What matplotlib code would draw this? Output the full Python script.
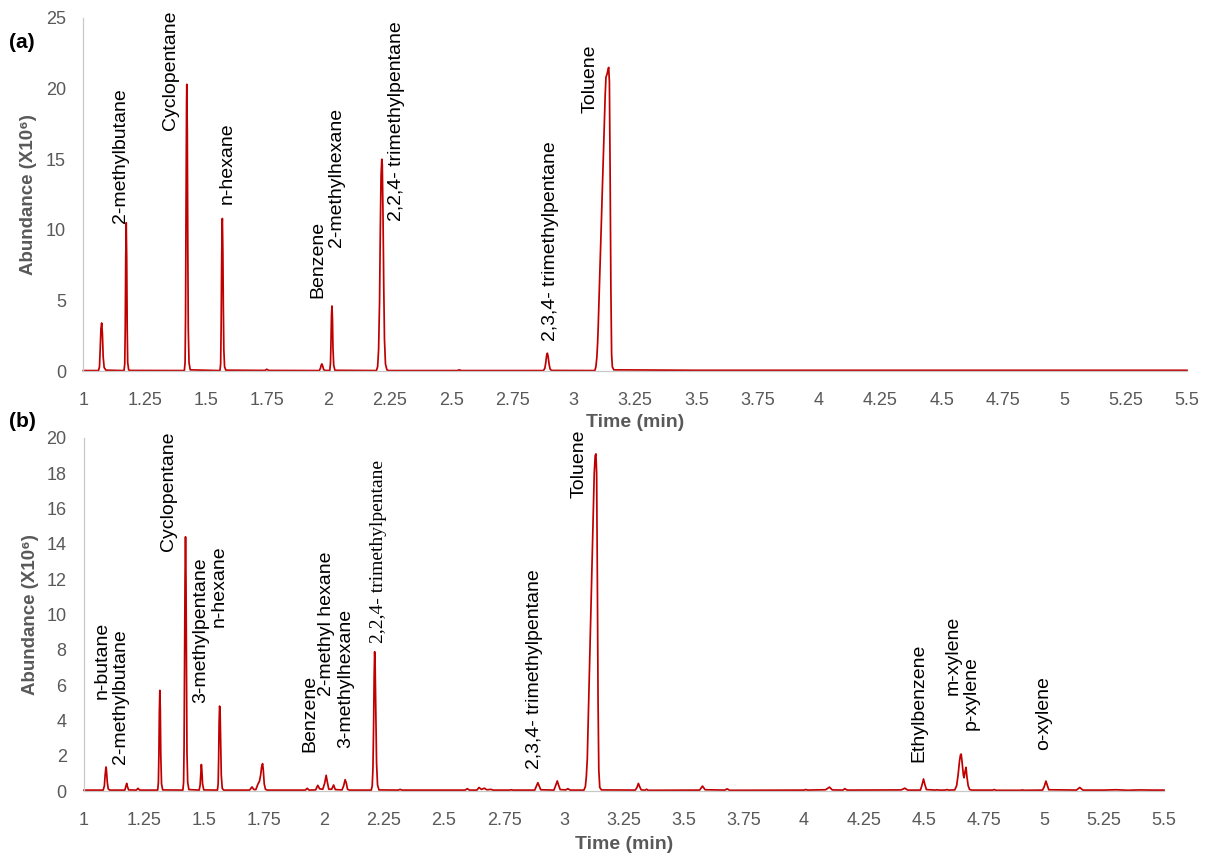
import matplotlib
matplotlib.use("Agg")
import matplotlib.pyplot as plt

plt.rcParams['font.family'] = ['Liberation Sans', 'DejaVu Sans']

# ---------------- DATA ----------------
# Panel (a): chromatogram trace vertices (time in min, abundance x10^6)
time_a = [1.000, 1.062, 1.066, 1.069, 1.072, 1.075, 1.078, 1.081, 1.085, 1.092,
          1.166, 1.169, 1.171, 1.173, 1.175, 1.177, 1.179, 1.181, 1.185, 1.190,
          1.412, 1.415, 1.417, 1.419, 1.421, 1.422, 1.424, 1.426, 1.428, 1.431, 1.436,
          1.557, 1.560, 1.562, 1.564, 1.566, 1.567, 1.569, 1.571, 1.573, 1.576, 1.581,
          1.740, 1.748, 1.756,
          1.962, 1.967, 1.970, 1.973, 1.976, 1.980, 1.985,
          2.005, 2.008, 2.010, 2.012, 2.014, 2.016, 2.018, 2.021, 2.026,
          2.195, 2.200, 2.204, 2.208, 2.211, 2.214, 2.217, 2.219, 2.222, 2.225, 2.228,
          2.232, 2.238, 2.245,
          2.525, 2.533, 2.541,
          2.876, 2.882, 2.886, 2.889, 2.892, 2.895, 2.899, 2.903, 2.909,
          3.080, 3.086, 3.090, 3.094, 3.097, 3.099, 3.105, 3.111, 3.117, 3.123, 3.128,
          3.131, 3.135, 3.139, 3.142, 3.145, 3.148, 3.151, 3.154, 3.157, 3.163,
          3.500, 4.000, 4.500, 5.000, 5.500]
abund_a = [0.03, 0.03, 0.30, 1.60, 3.00, 3.40, 2.60, 1.00, 0.25, 0.06,
           0.03, 0.50, 3.00, 8.00, 10.5, 8.00, 3.00, 0.60, 0.08, 0.04,
           0.03, 0.60, 4.00, 12.0, 19.0, 20.3, 17.0, 9.00, 3.00, 0.60, 0.08,
           0.03, 0.50, 3.00, 7.50, 10.5, 10.8, 8.50, 4.50, 1.50, 0.30, 0.06,
           0.04, 0.12, 0.04,
           0.03, 0.20, 0.42, 0.50, 0.35, 0.10, 0.04,
           0.04, 0.60, 2.20, 4.00, 4.60, 3.60, 1.60, 0.40, 0.05,
           0.03, 0.30, 1.50, 5.00, 10.0, 13.8, 15.0, 14.6, 11.0, 6.00, 2.20,
           0.50, 0.08, 0.03,
           0.03, 0.08, 0.03,
           0.03, 0.20, 0.65, 1.10, 1.26, 1.05, 0.50, 0.15, 0.04,
           0.03, 0.05, 0.30, 1.00, 2.00, 2.90, 6.40, 9.80, 13.3, 16.7, 19.6,
           20.8, 21.0, 21.3, 21.5, 20.5, 14.0, 6.00, 1.20, 0.30, 0.08,
           0.05, 0.05, 0.05, 0.05, 0.05]

# Panel (b): chromatogram trace vertices
time_b = [1.000, 1.080, 1.085, 1.088, 1.091, 1.092, 1.094, 1.097, 1.101, 1.107,
          1.170, 1.175, 1.178, 1.181, 1.186,
          1.218, 1.225, 1.232,
          1.307, 1.310, 1.312, 1.314, 1.316, 1.318, 1.320, 1.323, 1.328,
          1.412, 1.415, 1.417, 1.419, 1.421, 1.423, 1.425, 1.427, 1.429, 1.432, 1.437,
          1.480, 1.484, 1.487, 1.489, 1.491, 1.494, 1.499,
          1.556, 1.559, 1.561, 1.563, 1.565, 1.567, 1.569, 1.572, 1.576, 1.582,
          1.690, 1.700, 1.708,
          1.716, 1.725, 1.731, 1.736, 1.740, 1.744, 1.747, 1.751, 1.756, 1.763,
          1.922, 1.930, 1.938,
          1.965, 1.974, 1.982,
          1.995, 2.003, 2.009, 2.014, 2.020,
          2.032, 2.040, 2.047,
          2.075, 2.082, 2.088, 2.093, 2.098, 2.105,
          2.197, 2.201, 2.204, 2.207, 2.209, 2.211, 2.213, 2.216, 2.219, 2.223, 2.229,
          2.310, 2.317, 2.325,
          2.588, 2.597, 2.606,
          2.637, 2.646, 2.656, 2.668, 2.678, 2.695, 2.705,
          2.772, 2.780, 2.788,
          2.878, 2.884, 2.891, 2.896, 2.903,
          2.958, 2.965, 2.972, 2.977, 2.984,
          3.007, 3.016, 3.026,
          3.083, 3.089, 3.093, 3.097, 3.103, 3.109, 3.115, 3.121, 3.126, 3.130,
          3.133, 3.136, 3.139, 3.142, 3.145, 3.149, 3.156,
          3.297, 3.304, 3.310, 3.315, 3.322,
          3.338, 3.344, 3.350,
          3.565, 3.577, 3.588,
          3.670, 3.680, 3.690,
          4.000, 4.007, 4.015,
          4.090, 4.106, 4.118,
          4.162, 4.170, 4.180,
          4.405, 4.420, 4.432,
          4.485, 4.491, 4.498, 4.503, 4.510,
          4.548, 4.555, 4.562, 4.588, 4.595, 4.602,
          4.628, 4.636, 4.642, 4.648, 4.652, 4.655, 4.659, 4.664, 4.667, 4.671,
          4.675, 4.679, 4.684, 4.690, 4.700,
          4.785, 4.793, 4.800,
          4.903, 4.910, 4.917,
          4.994, 5.001, 5.008, 5.013, 5.020,
          5.135, 5.149, 5.162,
          5.250, 5.300, 5.350, 5.400, 5.450, 5.500]
abund_b = [0.05, 0.05, 0.30, 0.90, 1.30, 1.36, 1.10, 0.50, 0.12, 0.05,
           0.05, 0.30, 0.43, 0.25, 0.06,
           0.05, 0.15, 0.05,
           0.05, 0.50, 2.00, 4.50, 5.70, 4.60, 2.00, 0.40, 0.06,
           0.05, 0.50, 2.50, 7.00, 12.0, 14.4, 12.0, 6.50, 2.20, 0.50, 0.08,
           0.05, 0.35, 1.10, 1.50, 1.20, 0.40, 0.06,
           0.05, 0.40, 1.80, 3.90, 4.81, 4.60, 3.00, 0.90, 0.15, 0.05,
           0.05, 0.23, 0.08,
           0.08, 0.40, 0.55, 0.90, 1.35, 1.55, 1.20, 0.40, 0.10, 0.05,
           0.05, 0.15, 0.05,
           0.06, 0.32, 0.12,
           0.10, 0.45, 0.89, 0.50, 0.10,
           0.10, 0.34, 0.08,
           0.06, 0.30, 0.64, 0.45, 0.10, 0.05,
           0.05, 0.30, 1.30, 4.00, 6.50, 7.89, 7.20, 4.50, 1.60, 0.35, 0.06,
           0.05, 0.09, 0.05,
           0.05, 0.13, 0.05,
           0.05, 0.20, 0.09, 0.16, 0.07, 0.09, 0.05,
           0.05, 0.07, 0.05,
           0.05, 0.25, 0.47, 0.30, 0.07,
           0.05, 0.30, 0.57, 0.35, 0.08,
           0.06, 0.13, 0.05,
           0.05, 0.25, 0.80, 1.80, 5.20, 8.60, 12.0, 15.4, 18.0, 19.0,
           19.1, 18.0, 12.0, 5.00, 1.20, 0.20, 0.06,
           0.05, 0.20, 0.43, 0.25, 0.06,
           0.05, 0.10, 0.04,
           0.05, 0.28, 0.07,
           0.05, 0.12, 0.04,
           0.05, 0.08, 0.05,
           0.07, 0.22, 0.06,
           0.05, 0.13, 0.05,
           0.06, 0.16, 0.05,
           0.05, 0.30, 0.68, 0.40, 0.08,
           0.05, 0.07, 0.05, 0.05, 0.08, 0.05,
           0.06, 0.30, 0.90, 1.70, 2.05, 2.09, 1.60, 0.90, 0.75, 1.10,
           1.34, 0.80, 0.30, 0.08, 0.05,
           0.05, 0.08, 0.04,
           0.04, 0.06, 0.04,
           0.05, 0.25, 0.56, 0.35, 0.07,
           0.05, 0.20, 0.05,
           0.05, 0.07, 0.04, 0.06, 0.05, 0.05]

# Peak labels: name, label x (min), label bottom (abundance)
labels_a = ["2-methylbutane", "Cyclopentane", "n-hexane", "Benzene", "2-methylhexane",
            "2,2,4- trimethylpentane", "2,3,4- trimethylpentane", "Toluene"]
label_x_a = [1.153, 1.357, 1.587, 1.957, 2.033, 2.279, 2.903, 3.067]
label_y_a = [10.5, 17.06, 11.85, 5.14, 8.8, 10.6, 2.09, 18.3]

labels_b = ["n-butane", "2-methylbutane", "Cyclopentane", "3-methylpentane", "n-hexane",
            "Benzene", "2-methyl hexane", "3-methylhexane", "2,2,4- trimethylpentane",
            "2,3,4- trimethylpentane", "Toluene", "Ethylbenzene", "m-xylene",
            "p-xylene", "o-xylene"]
label_x_b = [1.074, 1.151, 1.354, 1.486, 1.563, 1.942, 2.012, 2.091, 2.226,
             2.877, 3.064, 4.478, 4.620, 4.696, 5.000]
label_y_b = [5.23, 1.55, 13.6, 4.96, 9.28, 2.2, 5.4, 2.45, 8.4,
             1.26, 16.6, 1.62, 5.46, 3.45, 2.32]
serif_label_b = "2,2,4- trimethylpentane"

xticks = [1, 1.25, 1.5, 1.75, 2, 2.25, 2.5, 2.75, 3, 3.25, 3.5, 3.75, 4, 4.25, 4.5,
          4.75, 5, 5.25, 5.5]
xtick_labels = ["1", "1.25", "1.5", "1.75", "2", "2.25", "2.5", "2.75", "3", "3.25",
                "3.5", "3.75", "4", "4.25", "4.5", "4.75", "5", "5.25", "5.5"]
yticks_a = [0, 5, 10, 15, 20, 25]
yticks_b = [0, 2, 4, 6, 8, 10, 12, 14, 16, 18, 20]

# ---------------- STYLE ----------------
W, H = 1210, 863
fig = plt.figure(figsize=(W / 100, H / 100), dpi=100)
fig.patch.set_facecolor('white')

LINE = '#C00000'
GRAY = '#595959'
SPINE = '#C8C8C8'


def px_axes(left, right, top, bottom):
    return fig.add_axes([left / W, 1 - bottom / H, (right - left) / W, (bottom - top) / H])


ax_a = px_axes(83.3, 1187, 18, 371)
ax_b = px_axes(84, 1164, 438, 791)


def style(ax, ymax, yticks, xlab_y):
    ax.set_xlim(1, 5.5)
    ax.set_ylim(0, ymax)
    ax.set_xticks(xticks)
    ax.set_xticklabels(xtick_labels)
    ax.set_yticks(yticks)
    for s in ['top', 'right']:
        ax.spines[s].set_visible(False)
    for s in ['left', 'bottom']:
        ax.spines[s].set_color(SPINE)
        ax.spines[s].set_linewidth(0.9)
    ax.tick_params(axis='both', length=0, labelsize=13, labelcolor=GRAY)
    ax.tick_params(axis='x', pad=15)
    ax.tick_params(axis='y', pad=12.5)
    ax.set_xlabel("Time (min)", fontsize=14, fontweight='bold', color=GRAY)
    ax.xaxis.set_label_coords(0.5, xlab_y)
    ax.set_ylabel("Abundance (X10\u2076)", fontsize=13.5, fontweight='bold', color=GRAY,
                  family=['Liberation Sans', 'DejaVu Sans'])
    ax.yaxis.set_label_coords(-0.042, 0.5)
    ax.set_facecolor('white')


style(ax_a, 25, yticks_a, -0.122)
style(ax_b, 20, yticks_b, -0.127)

ax_a.plot(time_a, abund_a, color=LINE, lw=1.25, solid_joinstyle='round', clip_on=False)
ax_b.plot(time_b, abund_b, color=LINE, lw=1.25, solid_joinstyle='round', clip_on=False)

for name, x, y in zip(labels_a, label_x_a, label_y_a):
    ax_a.text(x, y, name, rotation=90, ha='center', va='bottom', fontsize=14, color='black')

for name, x, y in zip(labels_b, label_x_b, label_y_b):
    fam = ['Liberation Serif', 'DejaVu Serif'] if name == serif_label_b else ['Liberation Sans', 'DejaVu Sans']
    ax_b.text(x, y, name, rotation=90, ha='center', va='bottom', fontsize=14, color='black',
              family=fam)

fig.text(22 / W, 1 - 43 / H, "(a)", fontsize=15, fontweight='bold', ha='center', va='center')
fig.text(22 / W, 1 - 421 / H, "(b)", fontsize=15, fontweight='bold', ha='center', va='center')

fig.savefig("out.png", dpi=100, facecolor='white')
